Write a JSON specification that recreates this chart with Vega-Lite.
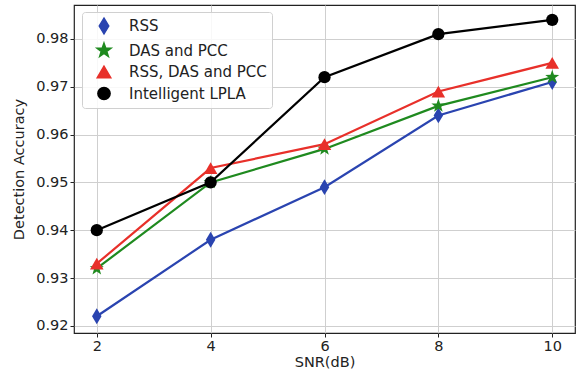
{
  "$schema": "https://vega.github.io/schema/vega-lite/v6.json",
  "width": 501,
  "height": 328,
  "autosize": {"type": "none"},
  "padding": {"left": 74, "top": 5, "right": 2, "bottom": 46},
  "background": "white",
  "config": {
    "font": "DejaVu Sans",
    "view": {"stroke": "#222", "strokeWidth": 1.2},
    "axis": {
      "grid": true, "gridColor": "#cfcfcf", "gridWidth": 1,
      "domain": false, "tickColor": "#222", "tickSize": 4,
      "labelFont": "DejaVu Sans", "labelFontSize": 14.5, "labelColor": "#222",
      "titleFont": "DejaVu Sans", "titleFontSize": 14.5, "titleFontWeight": "normal", "titleColor": "#222"
    },
    "legend": {
      "title": null, "orient": "none", "legendX": 8, "legendY": 7,
      "labelFont": "DejaVu Sans", "labelFontSize": 15, "labelColor": "#222",
      "rowPadding": 3, "padding": 5, "fillColor": "rgba(255,255,255,0.85)",
      "strokeColor": "#d0d0d0", "cornerRadius": 3, "symbolOffset": 8, "labelOffset": 16
    }
  },
  "data": {"values": [
    {"snr": 2, "acc": 0.922, "method": "RSS"},
    {"snr": 4, "acc": 0.938, "method": "RSS"},
    {"snr": 6, "acc": 0.949, "method": "RSS"},
    {"snr": 8, "acc": 0.964, "method": "RSS"},
    {"snr": 10, "acc": 0.971, "method": "RSS"},
    {"snr": 2, "acc": 0.932, "method": "DAS and PCC"},
    {"snr": 4, "acc": 0.950, "method": "DAS and PCC"},
    {"snr": 6, "acc": 0.957, "method": "DAS and PCC"},
    {"snr": 8, "acc": 0.966, "method": "DAS and PCC"},
    {"snr": 10, "acc": 0.972, "method": "DAS and PCC"},
    {"snr": 2, "acc": 0.933, "method": "RSS, DAS and PCC"},
    {"snr": 4, "acc": 0.953, "method": "RSS, DAS and PCC"},
    {"snr": 6, "acc": 0.958, "method": "RSS, DAS and PCC"},
    {"snr": 8, "acc": 0.969, "method": "RSS, DAS and PCC"},
    {"snr": 10, "acc": 0.975, "method": "RSS, DAS and PCC"},
    {"snr": 2, "acc": 0.940, "method": "Intelligent LPLA"},
    {"snr": 4, "acc": 0.950, "method": "Intelligent LPLA"},
    {"snr": 6, "acc": 0.972, "method": "Intelligent LPLA"},
    {"snr": 8, "acc": 0.981, "method": "Intelligent LPLA"},
    {"snr": 10, "acc": 0.984, "method": "Intelligent LPLA"}
  ]},
  "encoding": {
    "x": {"field": "snr", "type": "quantitative", "title": "SNR(dB)",
          "scale": {"domain": [1.6, 10.4], "nice": false, "zero": false},
          "axis": {"values": [2, 4, 6, 8, 10], "titlePadding": 3}},
    "y": {"field": "acc", "type": "quantitative", "title": "Detection Accuracy",
          "scale": {"domain": [0.9185, 0.9871], "nice": false, "zero": false},
          "axis": {"values": [0.92, 0.93, 0.94, 0.95, 0.96, 0.97, 0.98], "format": ".2f", "titlePadding": 9}},
    "color": {"field": "method", "type": "nominal",
              "scale": {"domain": ["RSS", "DAS and PCC", "RSS, DAS and PCC", "Intelligent LPLA"],
                        "range": ["#2a44b0", "#1f8a1f", "#e8302a", "#000000"]}}
  },
  "layer": [
    {"mark": {"type": "line", "strokeWidth": 2.2}},
    {"mark": {"type": "point", "filled": true, "opacity": 1},
     "encoding": {
       "shape": {"field": "method", "type": "nominal",
                 "scale": {"domain": ["RSS", "DAS and PCC", "RSS, DAS and PCC", "Intelligent LPLA"],
                           "range": ["M0,-1L0.6,0L0,1L-0.6,0Z",
                                     "M0,-1L0.235,-0.324L0.951,-0.309L0.38,0.124L0.588,0.809L0,0.4L-0.588,0.809L-0.38,0.124L-0.951,-0.309L-0.235,-0.324Z",
                                     "triangle-up", "circle"]}},
       "size": {"field": "method", "type": "nominal",
                "scale": {"domain": ["RSS", "DAS and PCC", "RSS, DAS and PCC", "Intelligent LPLA"],
                          "range": [250, 150, 170, 120]}}
     }}
  ]
}
